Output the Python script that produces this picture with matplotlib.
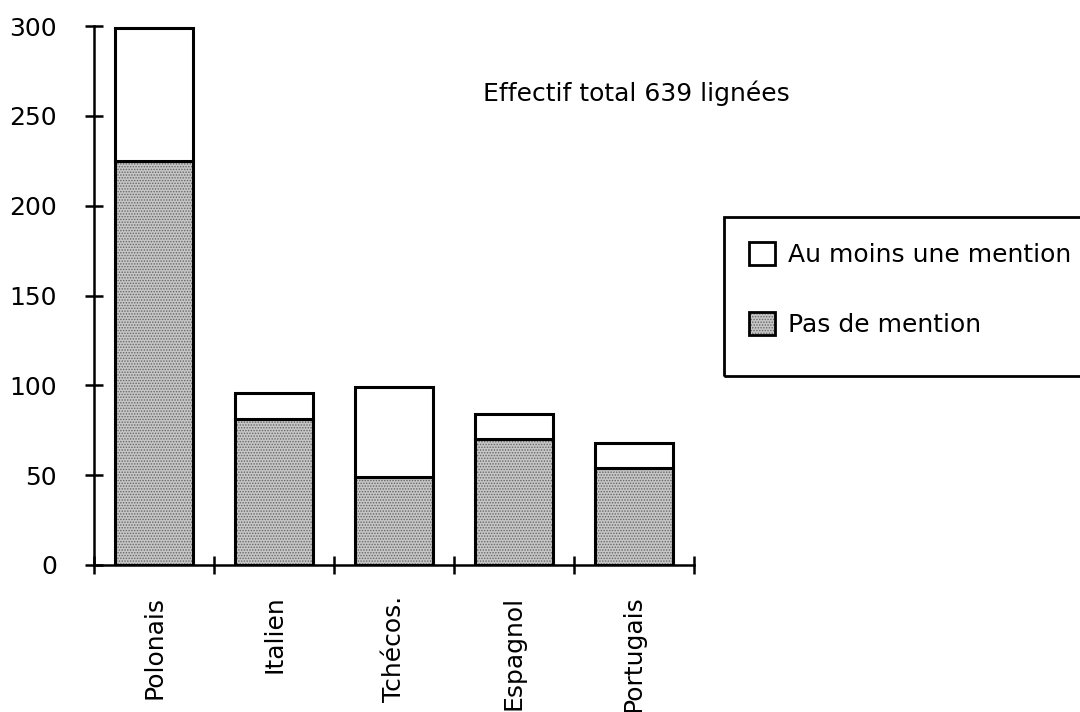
import matplotlib.pyplot as plt
from matplotlib.patches import Patch, Rectangle

# valeurs
groupes = ['Polonais', 'Italien', 'Tchécos.', 'Espagnol', 'Portugais']
pas_de_mention = [225, 81, 49, 70, 54]
au_moins_une = [74, 15, 50, 14, 14]
y_ticks = [0, 50, 100, 150, 200, 250, 300]

plt.rcParams['font.family'] = 'DejaVu Sans'
plt.rcParams['font.size'] = 18
plt.rcParams['hatch.linewidth'] = 0.7

fig = plt.figure(figsize=(10.8, 7.12), dpi=100)
ax = fig.add_axes([94 / 1080, 147 / 712, 600 / 1080, 539 / 712])

x = list(range(len(groupes)))
w = 0.65
gris = '#c6c6c6'
points = '#666666'

# barres grises (pointillé) puis contour noir
ax.bar(x, pas_de_mention, w, facecolor=gris, edgecolor=points,
       hatch='......', linewidth=0)
ax.bar(x, pas_de_mention, w, fill=False, edgecolor='black', linewidth=2.2)
ax.bar(x, au_moins_une, w, bottom=pas_de_mention, facecolor='white',
       edgecolor='black', linewidth=2.2)

ax.set_xlim(-0.5, len(groupes) - 0.5)
ax.set_ylim(0, 300)
ax.set_yticks(y_ticks)
ax.set_xticks([i - 0.5 for i in range(len(groupes) + 1)])
ax.set_xticklabels([])
ax.set_xticks(x, minor=True)
ax.set_xticklabels(groupes, minor=True, rotation=90, va='top', ha='center')

for s in ['top', 'right']:
    ax.spines[s].set_visible(False)
for s in ['left', 'bottom']:
    ax.spines[s].set_linewidth(1.8)
ax.tick_params(axis='both', which='major', direction='inout', length=13, width=1.8)
ax.tick_params(axis='y', pad=20)
ax.tick_params(axis='x', which='minor', length=0, pad=22)

fig.text(483 / 1080, 1 - 101 / 712, 'Effectif total 639 lignées', va='baseline')

# cadre de la légende (coupé à droite comme l'original)
fig.patches.append(Rectangle((724 / 1080, 1 - 376 / 712), 0.4, 159 / 712,
                             transform=fig.transFigure, fill=False,
                             edgecolor='black', linewidth=2))

h_blanc = Patch(facecolor='white', edgecolor='black', linewidth=2)
h_gris1 = Patch(facecolor=gris, edgecolor=points, hatch='......', linewidth=0)
h_gris2 = Patch(fill=False, edgecolor='black', linewidth=2)
leg = fig.legend([h_blanc, (h_gris1, h_gris2)], ['Au moins une mention', 'Pas de mention'],
                 loc='upper left', bbox_to_anchor=(724 / 1080, 1 - 217 / 712, 0.5, 0),
                 mode='expand', borderaxespad=0, frameon=False,
                 handlelength=1.05, handleheight=1.05,
                 handletextpad=0.5, labelspacing=1.8, borderpad=1.0)

fig.savefig('out.png', dpi=100)
